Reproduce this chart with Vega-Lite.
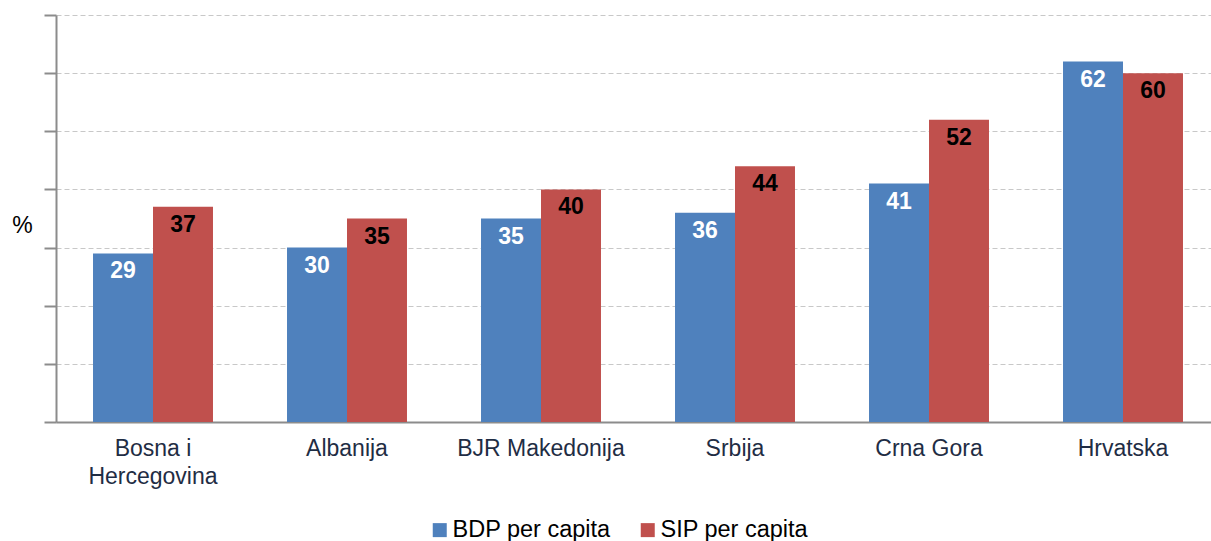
{
  "$schema": "https://vega.github.io/schema/vega-lite/v6.json",
  "width": 1164,
  "height": 407,
  "autosize": {"type": "none"},
  "padding": {"left": 56, "top": 15, "right": 0, "bottom": 119},
  "background": "white",
  "config": {
    "view": {"stroke": null},
    "font": "Liberation Sans"
  },
  "data": {
    "values": [
      {"country": "Bosna i Hercegovina", "series": "BDP per capita", "value": 29},
      {"country": "Bosna i Hercegovina", "series": "SIP per capita", "value": 37},
      {"country": "Albanija", "series": "BDP per capita", "value": 30},
      {"country": "Albanija", "series": "SIP per capita", "value": 35},
      {"country": "BJR Makedonija", "series": "BDP per capita", "value": 35},
      {"country": "BJR Makedonija", "series": "SIP per capita", "value": 40},
      {"country": "Srbija", "series": "BDP per capita", "value": 36},
      {"country": "Srbija", "series": "SIP per capita", "value": 44},
      {"country": "Crna Gora", "series": "BDP per capita", "value": 41},
      {"country": "Crna Gora", "series": "SIP per capita", "value": 52},
      {"country": "Hrvatska", "series": "BDP per capita", "value": 62},
      {"country": "Hrvatska", "series": "SIP per capita", "value": 60}
    ]
  },
  "encoding": {
    "x": {
      "field": "country",
      "type": "nominal",
      "sort": ["Bosna i Hercegovina", "Albanija", "BJR Makedonija", "Srbija", "Crna Gora", "Hrvatska"],
      "scale": {"paddingInner": 0, "paddingOuter": 0},
      "axis": {
        "title": null,
        "labelAngle": 0,
        "labelFontSize": 23,
        "labelColor": "#1F2D44",
        "labelPadding": 15,
        "labelLineHeight": 28,
        "labelBaseline": "top",
        "ticks": false,
        "domainColor": "#8c8c8c",
        "domainWidth": 2,
        "labelExpr": "datum.label == 'Bosna i Hercegovina' ? ['Bosna i', 'Hercegovina'] : datum.label"
      }
    },
    "xOffset": {
      "field": "series",
      "type": "nominal",
      "scale": {"paddingInner": 0, "paddingOuter": 0.617}
    },
    "y": {
      "field": "value",
      "type": "quantitative",
      "scale": {"domain": [0, 70]},
      "axis": {
        "values": [0, 10, 20, 30, 40, 50, 60, 70],
        "labels": false,
        "title": "%",
        "titleAngle": 0,
        "titleFontSize": 23,
        "titleFontWeight": "normal",
        "titleColor": "black",
        "titleX": -34,
        "titleY": 210,
        "titleAlign": "center",
        "titleBaseline": "middle",
        "tickSize": 12,
        "tickColor": "#8c8c8c",
        "tickWidth": 2,
        "domainColor": "#8c8c8c",
        "domainWidth": 2,
        "grid": true,
        "gridColor": "#c8c8c8",
        "gridDash": [5, 3],
        "gridWidth": 1
      }
    }
  },
  "layer": [
    {
      "mark": {"type": "bar"},
      "encoding": {
        "color": {
          "field": "series",
          "type": "nominal",
          "scale": {"domain": ["BDP per capita", "SIP per capita"], "range": ["#4F81BD", "#C0504D"]},
          "legend": {
            "title": null,
            "orient": "none",
            "direction": "horizontal",
            "legendX": 372,
            "legendY": 503,
            "symbolType": "square",
            "symbolSize": 196,
            "symbolStrokeWidth": 0,
            "labelFontSize": 23.5,
            "labelColor": "black",
            "labelOffset": 1,
            "columnPadding": 25
          }
        }
      }
    },
    {
      "mark": {"type": "text", "baseline": "middle", "dy": 18, "fontSize": 23, "fontWeight": "bold"},
      "encoding": {
        "text": {"field": "value", "type": "quantitative"},
        "color": {
          "condition": {"test": "datum.series == 'BDP per capita'", "value": "white"},
          "value": "black"
        }
      }
    }
  ]
}
